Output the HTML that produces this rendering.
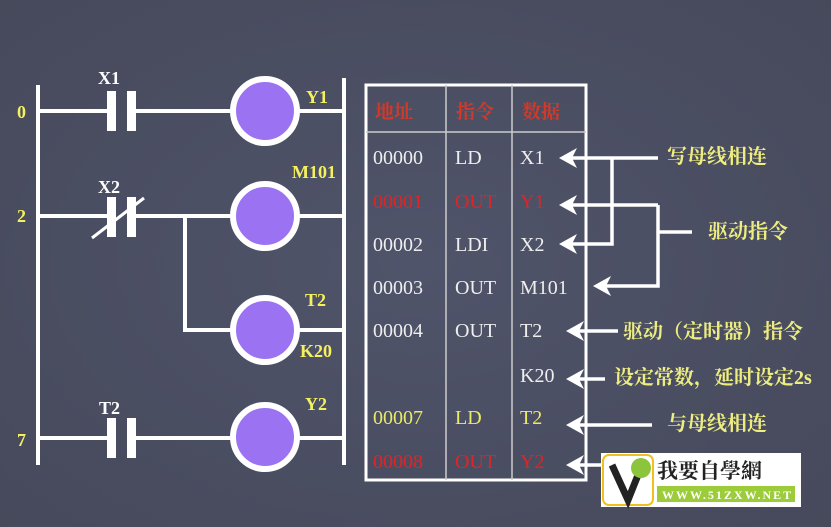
<!DOCTYPE html>
<html><head><meta charset="utf-8"><style>
html,body{margin:0;padding:0;background:#4b4f5f;}
svg{display:block}
.w{fill:#fff}
text{font-family:"Liberation Serif","Noto Serif CJK SC",serif}
.y{fill:#f4f060;font-weight:bold}
.cj{font-family:"Liberation Sans","Noto Sans CJK SC",sans-serif;font-weight:bold;fill:#eeee80}
</style></head><body>
<svg width="831" height="527" viewBox="0 0 831 527">
<defs><radialGradient id="bg" cx="0.5" cy="0.5" r="0.8"><stop offset="0" stop-color="#50546a"/><stop offset="1" stop-color="#454859"/></radialGradient>
<path id="ah" d="M0,0 L18,-10 L13,0 L18,10 Z" fill="#fff"/></defs>
<rect width="831" height="527" fill="url(#bg)"/>
<g stroke="#fff" stroke-width="4" fill="none">
<line x1="38" y1="85" x2="38" y2="465"/>
<line x1="344" y1="78" x2="344" y2="465"/>
<line x1="38" y1="111" x2="107" y2="111"/><line x1="135" y1="111" x2="344" y2="111"/>
<line x1="38" y1="216" x2="107" y2="216"/><line x1="135" y1="216" x2="344" y2="216"/>
<polyline points="185,216 185,330 344,330"/>
<line x1="38" y1="438" x2="107" y2="438"/><line x1="135" y1="438" x2="344" y2="438"/>
<line x1="92" y1="238" x2="144" y2="198" stroke-width="3"/>
</g>
<g class="w">
<rect x="107" y="91" width="9" height="40"/><rect x="127" y="91" width="9" height="40"/>
<rect x="107" y="197" width="9" height="40"/><rect x="127" y="197" width="9" height="40"/>
<rect x="107" y="418" width="9" height="40"/><rect x="127" y="418" width="9" height="40"/>
</g>
<g fill="#9b73f2" stroke="#fff" stroke-width="6">
<circle cx="265" cy="111" r="32"/><circle cx="265" cy="216" r="32"/>
<circle cx="265" cy="330" r="32"/><circle cx="265" cy="437" r="32"/>
</g>
<g font-size="18" font-weight="bold">
<text x="98" y="84" fill="#fff">X1</text><text x="98" y="193" fill="#fff">X2</text><text x="99" y="414" fill="#fff">T2</text>
</g>
<g font-size="18" class="y">
<text x="306" y="103">Y1</text><text x="292" y="178">M101</text><text x="305" y="306">T2</text><text x="300" y="357">K20</text><text x="305" y="410">Y2</text>
</g>
<g font-family="Liberation Sans,sans-serif" font-weight="bold" font-size="18" fill="#f4f060">
<text x="17" y="118">0</text><text x="17" y="222">2</text><text x="17" y="446">7</text>
</g>
<g stroke="#fff" fill="none">
<rect x="366" y="85" width="220" height="395" stroke-width="3"/>
<line x1="366" y1="132" x2="586" y2="132" stroke="#ccc" stroke-width="1.5"/>
<line x1="446" y1="85" x2="446" y2="480" stroke="#ccc" stroke-width="1.5"/>
<line x1="512" y1="85" x2="512" y2="480" stroke="#ccc" stroke-width="1.5"/>
</g>
<g font-family="Liberation Sans,Noto Sans CJK SC,sans-serif" font-weight="bold" font-size="19" fill="#d03a2a">
<text x="375" y="118">地址</text><text x="456" y="118">指令</text><text x="522" y="118">数据</text>
</g>
<g font-size="20" fill="#eee">
<text x="373" y="164">00000</text><text x="455" y="164">LD</text><text x="520" y="164">X1</text>
<text x="373" y="208" fill="#e02424">00001</text><text x="455" y="208" fill="#e02424">OUT</text><text x="520" y="208" fill="#e02424">Y1</text>
<text x="373" y="251">00002</text><text x="455" y="251">LDI</text><text x="520" y="251">X2</text>
<text x="373" y="294">00003</text><text x="455" y="294">OUT</text><text x="520" y="294">M101</text>
<text x="373" y="337">00004</text><text x="455" y="337">OUT</text><text x="520" y="337">T2</text>
<text x="520" y="382">K20</text>
<text x="373" y="424" fill="#eaea66">00007</text><text x="455" y="424" fill="#eaea66">LD</text><text x="520" y="424" fill="#eaea66">T2</text>
<text x="373" y="468" fill="#e02424">00008</text><text x="455" y="468" fill="#e02424">OUT</text><text x="520" y="468" fill="#e02424">Y2</text>
</g>
<g stroke="#fff" stroke-width="3.5" fill="none">
<line x1="658" y1="158" x2="572" y2="158"/>
<polyline points="612,158 612,244 572,244"/>
<line x1="658" y1="205" x2="572" y2="205"/>
<polyline points="658,205 658,286 606,286"/>
<line x1="658" y1="232" x2="692" y2="232"/>
<line x1="618" y1="331" x2="578" y2="331"/>
<line x1="605" y1="379" x2="578" y2="379"/>
<line x1="652" y1="425" x2="578" y2="425"/>
<line x1="602" y1="465" x2="578" y2="465"/>
</g>
<use href="#ah" x="559" y="158"/><use href="#ah" x="559" y="205"/><use href="#ah" x="559" y="244"/>
<use href="#ah" x="593" y="286"/><use href="#ah" x="566" y="331"/><use href="#ah" x="566" y="379"/>
<use href="#ah" x="566" y="425"/><use href="#ah" x="566" y="465"/>
<g class="cj" font-size="20">
<text x="667" y="163">写母线相连</text>
<text x="708" y="238">驱动指令</text>
<text x="623" y="338">驱动（定时器）指令</text>
<text x="614" y="384">设定常数，延时设定2s</text>
<text x="667" y="430">与母线相连</text>
</g>
<rect x="601" y="453" width="200" height="54" fill="#fff"/>
<rect x="603" y="455" width="50" height="50" rx="6" fill="#fff" stroke="#f0c020" stroke-width="2"/>
<path d="M612,465 L628,500 L640,470" stroke="#222" stroke-width="7" fill="none"/>
<circle cx="641" cy="468" r="10" fill="#8cc43c"/>
<text x="657" y="478" font-family="Liberation Sans,Noto Sans CJK TC,sans-serif" font-weight="bold" font-size="21" fill="#222">我要自學網</text>
<rect x="657" y="486" width="138" height="16" fill="#9ccc3a"/>
<text x="662" y="499" font-family="Liberation Sans,sans-serif" font-weight="bold" font-size="12" fill="#fff" letter-spacing="2">WWW.51ZXW.NET</text>
</svg>
</body></html>
